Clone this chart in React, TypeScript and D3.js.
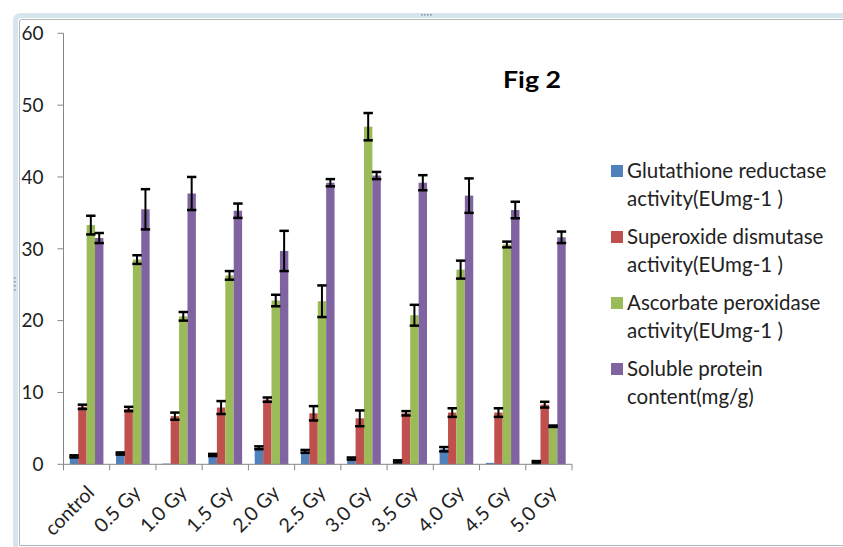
import React from 'react';
import * as d3 from 'd3';

const categories = ['control', '0.5 Gy', '1.0 Gy', '1.5 Gy', '2.0 Gy', '2.5 Gy', '3.0 Gy', '3.5 Gy', '4.0 Gy', '4.5 Gy', '5.0 Gy'];
const seriesNames = [
  ['Glutathione reductase', 'activity(EUmg-1 )'],
  ['Superoxide dismutase', 'activity(EUmg-1 )'],
  ['Ascorbate peroxidase', 'activity(EUmg-1 )'],
  ['Soluble protein', 'content(mg/g)'],
];
const seriesColors = ['#4F81BD', '#C0504D', '#9BBB59', '#8064A2'];

const glutathione = [1.1, 1.5, 0.1, 1.3, 2.3, 1.8, 0.8, 0.4, 2.1, 0.2, 0.3];
const glutathioneErr = [0.15, 0.15, 0, 0.15, 0.2, 0.2, 0.15, 0.15, 0.3, 0, 0.15];
const sod = [8.0, 7.7, 6.7, 7.9, 9.0, 7.1, 6.4, 7.1, 7.2, 7.2, 8.3];
const sodErr = [0.3, 0.3, 0.5, 0.9, 0.3, 1.0, 1.1, 0.3, 0.6, 0.6, 0.4];
const apx = [33.3, 28.5, 20.6, 26.3, 22.8, 22.7, 47.0, 20.75, 27.1, 30.6, 5.3];
const apxErr = [1.3, 0.6, 0.6, 0.6, 0.8, 2.2, 1.9, 1.45, 1.25, 0.4, 0.1];
const protein = [31.5, 35.5, 37.7, 35.3, 29.7, 39.2, 40.2, 39.2, 37.4, 35.4, 31.6];
const proteinErr = [0.7, 2.8, 2.3, 1.0, 2.8, 0.5, 0.5, 1.05, 2.4, 1.15, 0.8];

const yTicks = [0, 10, 20, 30, 40, 50, 60];
const title = 'Fig 2';

const seriesValues = [glutathione, sod, apx, protein];
const seriesErrors = [glutathioneErr, sodErr, apxErr, proteinErr];

const W = 843;
const H = 547;
const plotLeft = 63.5;
const plotRight = 572;
const plotTop = 33.3;
const plotBottom = 464.3;
const FONT = 'Lato, "Open Sans", sans-serif';

export default function App() {
  const x = d3.scaleBand<string>().domain(categories).range([plotLeft, plotRight]).paddingInner(0).paddingOuter(0);
  const y = d3.scaleLinear().domain([0, 60]).range([plotBottom, plotTop]);
  const bw = x.bandwidth() / 5.5;
  const groupOffset = (x.bandwidth() - 4 * bw) / 2;

  const boundaries = d3.range(categories.length + 1).map((i) => plotLeft + i * x.bandwidth());

  return (
    <svg width={W} height={H} style={{ position: 'absolute', left: 0, top: 0, background: '#fff' }}>
      {/* frame */}
      <path d={`M ${W + 2} 15.5 L 21 15.5 Q 15.5 15.5 15.5 21 L 15.5 ${H + 2}`} fill="none" stroke="#d6e6ec" strokeWidth={5} />
      <path d={`M ${W + 2} 19.5 L 22 19.5 Q 19.5 19.5 19.5 22 L 19.5 545.5 L ${W + 2} 545.5`} fill="none" stroke="#b4b8ba" strokeWidth={1} />
      {[0, 1, 2, 3].map((i) => (
        <rect key={'ht' + i} x={421 + i * 3} y={14} width={1.6} height={1.6} fill="#8a9aa4" />
      ))}
      {[0, 1, 2, 3].map((i) => (
        <rect key={'hl' + i} x={14} y={277 + i * 4} width={1.6} height={1.6} fill="#8a9aa4" />
      ))}

      {/* y axis */}
      <line x1={plotLeft} x2={plotLeft} y1={plotTop} y2={plotBottom} stroke="#868686" strokeWidth={1} />
      {yTicks.map((t) => (
        <g key={'yt' + t}>
          <line x1={plotLeft - 6} x2={plotLeft} y1={y(t)} y2={y(t)} stroke="#868686" strokeWidth={1} />
          <text x={43.5} y={y(t)} dy="0.36em" textAnchor="end" fontFamily={FONT} fontSize={19} fill="#222">
            {t}
          </text>
        </g>
      ))}

      {/* bars */}
      {seriesValues.map((vals, s) => (
        <g key={'s' + s}>
          {vals.map((v, i) => {
            const bx = (x(categories[i]) as number) + groupOffset + s * bw;
            return (
              <rect key={i} x={bx} y={y(v)} width={bw} height={y(0) - y(v)} fill={seriesColors[s]} />
            );
          })}
        </g>
      ))}

      {/* error bars */}
      {seriesValues.map((vals, s) => (
        <g key={'e' + s}>
          {vals.map((v, i) => {
            const e = seriesErrors[s][i];
            if (v < 0.25) return null;
            const cx = (x(categories[i]) as number) + groupOffset + s * bw + bw / 2;
            const capW = bw + 1;
            return (
              <g key={i} stroke="#000">
                <line x1={cx} x2={cx} y1={y(v + e)} y2={y(v - e)} strokeWidth={2} />
                <line x1={cx - capW / 2} x2={cx + capW / 2} y1={y(v + e)} y2={y(v + e)} strokeWidth={2.5} />
                <line x1={cx - capW / 2} x2={cx + capW / 2} y1={y(v - e)} y2={y(v - e)} strokeWidth={2.5} />
              </g>
            );
          })}
        </g>
      ))}

      {/* x axis */}
      <line x1={plotLeft} x2={plotRight} y1={plotBottom} y2={plotBottom} stroke="#868686" strokeWidth={1} />
      {boundaries.map((b, i) => (
        <line key={'xb' + i} x1={b} x2={b} y1={plotBottom} y2={plotBottom + 6} stroke="#868686" strokeWidth={1} />
      ))}
      {categories.map((c) => {
        const cx = (x(c) as number) + x.bandwidth() / 2;
        const ax = cx + 9;
        const ay = 494;
        return (
          <text
            key={c}
            x={ax}
            y={ay}
            textAnchor="end"
            fontFamily={FONT}
            fontSize={19.5}
            fill="#222"
            transform={`rotate(-45 ${ax} ${ay})`}
          >
            {c}
          </text>
        );
      })}

      {/* title */}
      <text x={503} y={88} fontFamily={FONT} fontWeight="bold" fontSize={23} fill="#000" textLength={58} lengthAdjust="spacingAndGlyphs">
        {title}
      </text>

      {/* legend */}
      {seriesNames.map((lines, s) => {
        const ly = 171 + s * 66;
        return (
          <g key={'lg' + s}>
            <rect x={611} y={ly - 6} width={12} height={12} fill={seriesColors[s]} />
            {lines.map((ln, k) => (
              <text key={k} x={627} y={ly + k * 28} dy="0.36em" fontFamily={FONT} fontSize={20.5} fill="#222">
                {ln}
              </text>
            ))}
          </g>
        );
      })}
    </svg>
  );
}
